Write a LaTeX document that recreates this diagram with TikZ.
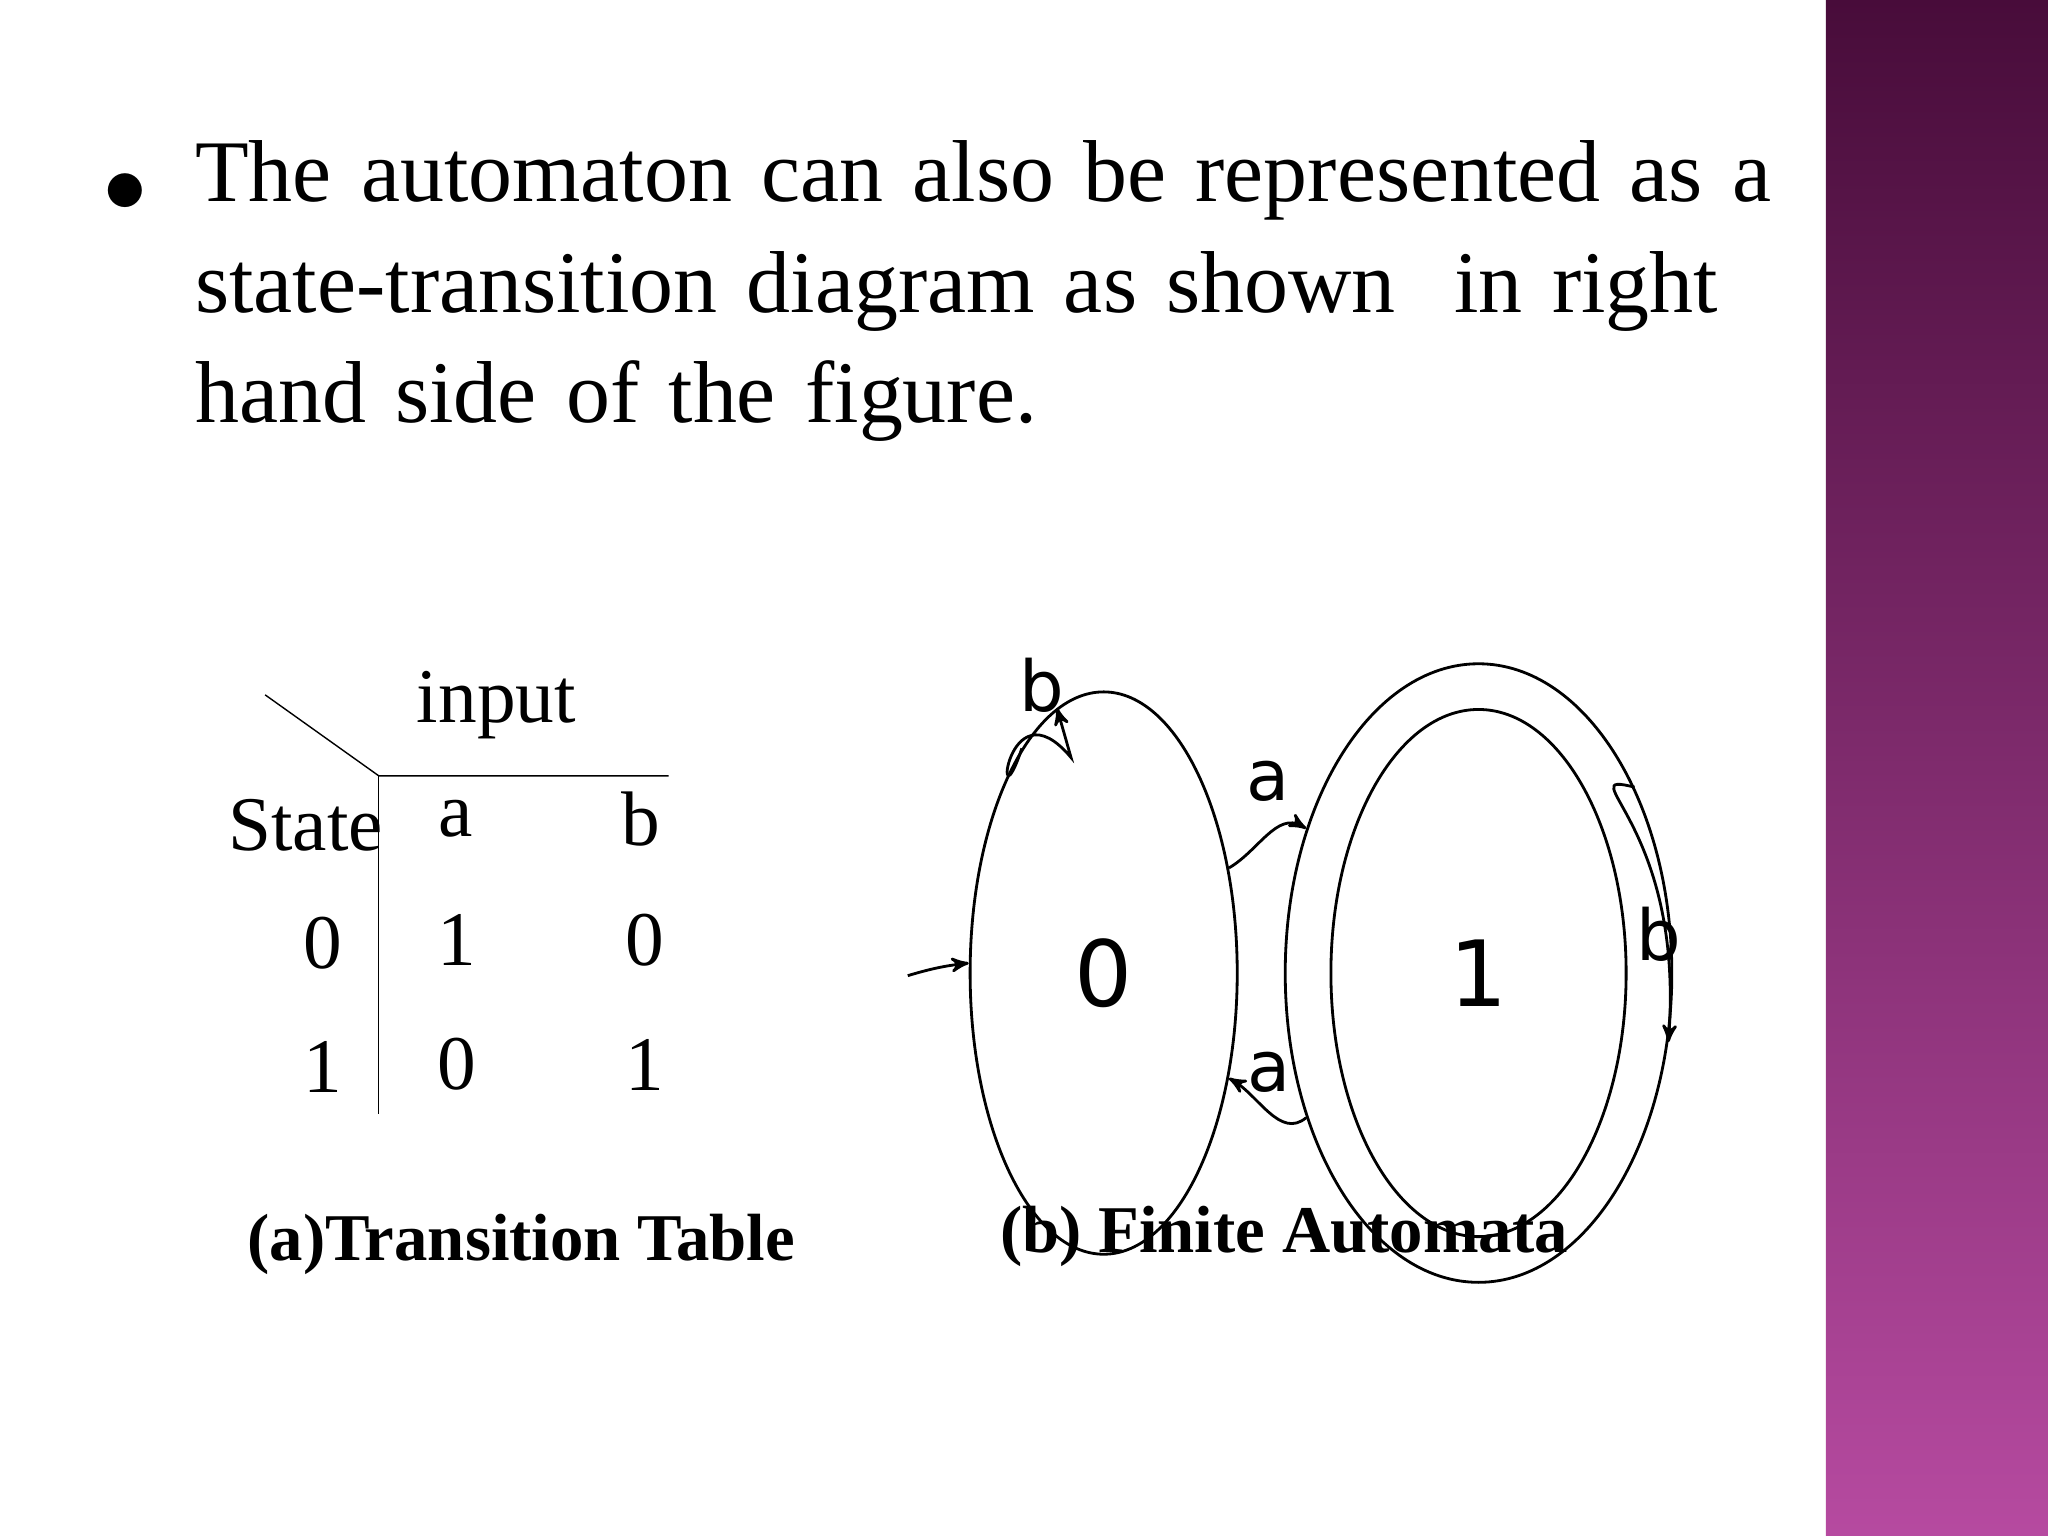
\documentclass[tikz,border=0pt]{standalone}
\usepackage{fontspec}
\setmainfont{Liberation Serif}
\newfontfamily\handfont{DejaVu Sans}
\usetikzlibrary{arrows,shapes.geometric}

\begin{document}
\begin{tikzpicture}[x=0.013061cm,y=-0.013061cm,
  state/.style={ellipse,draw,thick,minimum width=76,minimum height=160,inner sep=0pt,font=\handfont\fontsize{26}{28}\selectfont},
  tab/.style={font=\fontsize{22}{24}\selectfont},
  lbl/.style={font=\handfont\fontsize{20}{22}\selectfont},
  captext/.style={font=\bfseries\fontsize{19}{21}\selectfont},
  trans/.style={->,>=stealth',thick}]
\useasboundingbox (0,0) rectangle (1568,1176);
% side bar
\shade[top color={rgb,255:red,72;green,12;blue,58},bottom color={rgb,255:red,182;green,74;blue,160}] (1398,0) rectangle (1568,1176);

% bullet text
\node[anchor=north west,align=left,text width=16.6cm,font=\fontsize{25}{31.5}\selectfont] (txt) at (140,98)
  {The automaton can also be represented as a state-transition diagram as shown\ \ in right hand side of the figure.};
\node[font=\fontsize{25}{30}\selectfont] (dot) at (96,148) {$\bullet$};

% transition table
\coordinate (corner) at (290,594);
\coordinate (diag) at (203,532);
\coordinate (hend) at (512,594);
\coordinate (vend) at (290,853);
\draw (diag) -- (corner) -- (hend);
\draw (corner) -- (vend);
\node[tab] (input) at (380,540) {input};
\node[tab] (state) at (234,632) {State};
\node[tab] (ha) at (349,627) {a};
\node[tab] (hb) at (491,627) {b};
\node[tab] (s0) at (247,722) {0};
\node[tab] (s0a) at (350,720) {1};
\node[tab] (s0b) at (494,720) {0};
\node[tab] (s1) at (247,817) {1};
\node[tab] (s1a) at (350,815) {0};
\node[tab] (s1b) at (494,815) {1};
\node[captext] (capa) at (399,953) {(a)Transition Table};

% finite automaton
\node[state] (q0) at (845,745) {0};
\node[state,minimum width=110,minimum height=176] (q1) at (1132,745) {};
\node[state,minimum width=84,minimum height=150] (q1in) at (1132,745) {1};
\coordinate (start) at (695,747);
\draw[trans] (start) to[bend left=5] (q0);
\draw[trans] (q0.40) to[out=30,in=150] node[lbl,above=6pt] {a} (q1.140);
\draw[trans] (q1.220) to[out=220,in=-30] node[lbl,above=2pt] {a} (q0.-40);
\draw[trans] (q0.110) .. controls (760,640) and (770,520) .. (820,580) -- (q0.100);
\node[lbl] (b0) at (798,525) {b};
\draw[trans] (q1.50) .. controls (1200,590) and (1290,630) .. (q1.-20);
\node[lbl] (b1) at (1270,715) {b};
\node[captext] (capb) at (983,947) {(b) Finite Automata};
\end{tikzpicture}
\end{document}
